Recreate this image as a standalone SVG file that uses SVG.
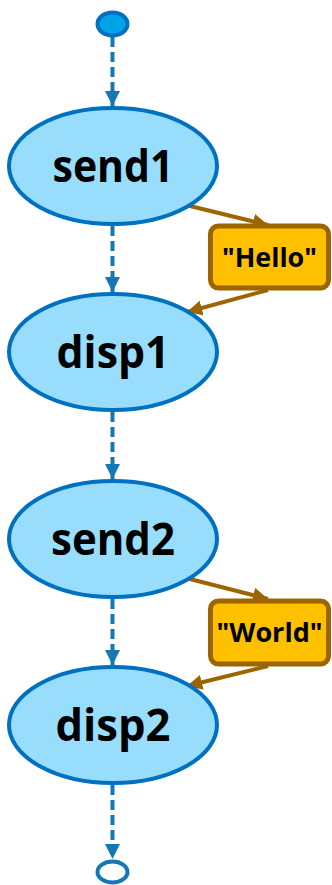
<svg xmlns="http://www.w3.org/2000/svg" width="332" height="885" viewBox="0 0 332 885">
<style>
.st{fill:#99ddfd;stroke:#0070c0;stroke-width:4}
.lbl{font-family:"Open Sans","Liberation Sans",sans-serif;font-weight:bold;font-size:44px;fill:#000;text-anchor:middle}
.box{fill:#ffc000;stroke:#9c6500;stroke-width:5}
.blbl{font-family:"Open Sans","Liberation Sans",sans-serif;font-weight:bold;font-size:27px;fill:#000;text-anchor:middle}
.flow{stroke:#1478b4;stroke-width:4;stroke-dasharray:10 5;fill:none}
.data{stroke:#9c6500;stroke-width:4;fill:none}
</style>
<defs>
<marker id="ab" viewBox="0 0 10 10" refX="10" refY="5" markerWidth="3.8" markerHeight="3.8" orient="auto" markerUnits="strokeWidth"><path d="M0,0 L10,5 L0,10 z" fill="#1478b4"/></marker>
<marker id="ao" viewBox="0 0 10 10" refX="10" refY="5" markerWidth="3.8" markerHeight="3.8" orient="auto" markerUnits="strokeWidth"><path d="M0,0 L10,5 L0,10 z" fill="#9c6500"/></marker>
</defs>
<g id="connectors">
<line class="flow" x1="112.5" y1="37" x2="112.5" y2="106" marker-end="url(#ab)"/>
<line class="flow" x1="112.5" y1="226" x2="112.5" y2="292" marker-end="url(#ab)"/>
<line class="flow" x1="112.5" y1="412" x2="112.5" y2="479" marker-end="url(#ab)"/>
<line class="flow" x1="112.5" y1="599" x2="112.5" y2="665" marker-end="url(#ab)"/>
<line class="flow" x1="112.5" y1="785" x2="112.5" y2="859" marker-end="url(#ab)"/>
<line class="data" x1="186" y1="205" x2="268" y2="225" marker-end="url(#ao)"/>
<line class="data" x1="268" y1="290" x2="187" y2="312" marker-end="url(#ao)"/>
<line class="data" x1="186" y1="578" x2="268" y2="599" marker-end="url(#ao)"/>
<line class="data" x1="268" y1="666" x2="187" y2="686" marker-end="url(#ao)"/>
</g>
<g id="start"><ellipse cx="112.5" cy="24" rx="15" ry="11.5" fill="#00a2e8" stroke="#0070c0" stroke-width="4"/></g>
<g id="send1"><ellipse class="st" cx="113" cy="166" rx="104" ry="58"/><text class="lbl" x="113" y="182" textLength="121" lengthAdjust="spacingAndGlyphs">send1</text></g>
<g id="disp1"><ellipse class="st" cx="113" cy="352" rx="104" ry="58"/><text class="lbl" x="113" y="368" textLength="113" lengthAdjust="spacingAndGlyphs">disp1</text></g>
<g id="send2"><ellipse class="st" cx="113" cy="539" rx="104" ry="58"/><text class="lbl" x="113" y="555" textLength="124" lengthAdjust="spacingAndGlyphs">send2</text></g>
<g id="disp2"><ellipse class="st" cx="113" cy="725" rx="104" ry="58"/><text class="lbl" x="113" y="741" textLength="115" lengthAdjust="spacingAndGlyphs">disp2</text></g>
<g id="hello"><rect class="box" x="210.5" y="226" width="118" height="62" rx="8"/><text class="blbl" x="269.5" y="267" textLength="95" lengthAdjust="spacingAndGlyphs">"Hello"</text></g>
<g id="world"><rect class="box" x="210.5" y="601" width="118" height="63" rx="8"/><text class="blbl" x="269.5" y="642" textLength="106" lengthAdjust="spacingAndGlyphs">"World"</text></g>
<g id="end"><ellipse cx="112.5" cy="872" rx="15" ry="10.5" fill="#fff" stroke="#1478b4" stroke-width="4"/></g>
</svg>
